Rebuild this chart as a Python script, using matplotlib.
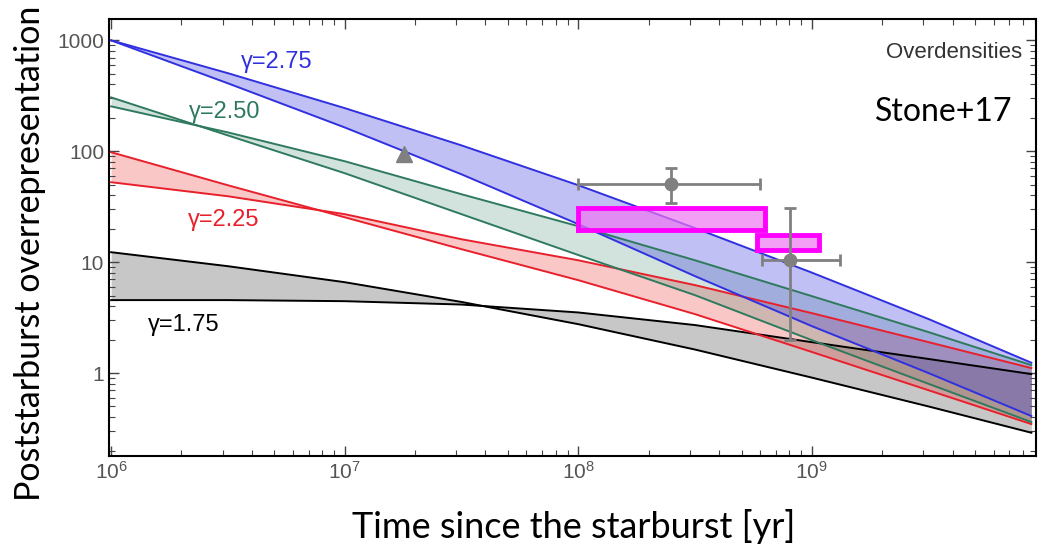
import numpy as np
import matplotlib
matplotlib.use("Agg")
import matplotlib.pyplot as plt
from matplotlib.ticker import LogLocator, FixedLocator, NullFormatter

# ------------------------------------------------------------
# data
# ------------------------------------------------------------
t = [1e6, 3.16e6, 1e7, 3.16e7, 1e8, 3.16e8, 1e9, 3.16e9, 8.7e9]

# gamma = 2.75 (blue)
blue_hi = [1000, 506, 245, 113, 49.4, 20.3, 8.05, 3.07, 1.24]
blue_lo = [1000, 410, 164, 62, 22, 7.48, 2.65, 1.0, 0.41]
# gamma = 2.50 (green)
green_a = [306, 139, 63.4, 27.1, 11.6, 5.04, 1.98, 0.80, 0.362]
green_b = [254, 148, 81.3, 41, 21.1, 10.4, 4.94, 2.34, 1.18]
# gamma = 2.25 (red)
red_a = [98, 49.4, 25.4, 13.1, 6.88, 3.40, 1.55, 0.70, 0.347]
red_b = [52.6, 39.3, 27.1, 16.1, 10.4, 6.21, 3.47, 1.90, 1.11]
# gamma = 1.75 (black)
black_a = [12.3, 9.2, 6.6, 4.38, 2.76, 1.63, 0.91, 0.50, 0.29]
black_b = [4.55, 4.55, 4.45, 4.15, 3.52, 2.71, 1.90, 1.34, 0.98]

# observations
tri_t, tri_y = [1.8e7], [95]
pt_t = [2.5e8, 8.05e8]
pt_y = [51, 10.5]
pt_xerr = [[1.5e8, 1.95e8], [3.5e8, 5.2e8]]   # minus, plus
pt_yerr = [[17, 8.5], [19, 20.5]]
box_t0 = [1e8, 5.8e8]
box_t1 = [6.3e8, 1.07e9]
box_y0 = [19.5, 12.8]
box_y1 = [31, 17.4]

bands = [
    (black_a, black_b, "black", "#909090", 0.5, "γ=1.75", (2.05e6, 2.71)),
    (red_a, red_b, "#e8202c", "#ee2020", 0.25, "γ=2.25", (3.04e6, 23.9)),
    (green_a, green_b, "#2f7a5e", "#2e8060", 0.22, "γ=2.50", (3.07e6, 224)),
    (blue_hi, blue_lo, "#3030e0", "#4040e0", 0.33, "γ=2.75", (5.1e6, 634)),
]

plt.rcParams["font.family"] = ["Liberation Sans", "DejaVu Sans"]
plt.rcParams["mathtext.fontset"] = "custom"
plt.rcParams["mathtext.rm"] = "Liberation Sans"

fig = plt.figure(figsize=(10.39, 5.5), dpi=100)
ax = fig.add_axes([0.105, 0.171, 0.892, 0.794])
ax.set_xscale("log")
ax.set_yscale("log")

for a, b, lc, fc, al, lab, pos in bands:
    ax.fill_between(t, a, b, color=fc, alpha=al, lw=0)
for a, b, lc, fc, al, lab, pos in bands:
    ax.plot(t, a, color=lc, lw=1.4)
    ax.plot(t, b, color=lc, lw=1.4)
    ax.text(pos[0], pos[1], lab, color=lc, fontsize=17, ha="center", va="center")

# magenta boxes
for x0, x1, y0, y1 in zip(box_t0, box_t1, box_y0, box_y1):
    ax.fill_between([x0, x1], [y0, y0], [y1, y1], facecolor="#ee77f2",
                    alpha=0.7, lw=0, zorder=4)
    ax.plot([x0, x1, x1, x0, x0], [y0, y0, y1, y1, y0], color="#ff00ff",
            lw=3.5, zorder=5, solid_joinstyle="miter")

ax.errorbar(pt_t, pt_y, xerr=pt_xerr, yerr=pt_yerr, fmt="o", color="#808080",
            ms=9, elinewidth=2, capsize=4, capthick=2, zorder=6)
ax.plot(tri_t, tri_y, "^", color="#808080", ms=12, zorder=6)

ax.set_xlim(0.98e6, 9.1e9)
ax.set_ylim(0.179, 1550)

ax.xaxis.set_major_locator(FixedLocator([1e6, 1e7, 1e8, 1e9]))
ax.set_xticklabels([r"$\mathregular{10^{6}}$", r"$\mathregular{10^{7}}$",
                    r"$\mathregular{10^{8}}$", r"$\mathregular{10^{9}}$"])
ax.yaxis.set_major_locator(FixedLocator([1, 10, 100, 1000]))
ax.set_yticklabels(["1", "10", "100", "1000"])
ax.xaxis.set_minor_locator(LogLocator(base=10, subs=np.arange(2, 10)))
ax.yaxis.set_minor_locator(LogLocator(base=10, subs=np.arange(2, 10)))
ax.xaxis.set_minor_formatter(NullFormatter())
ax.yaxis.set_minor_formatter(NullFormatter())
ax.tick_params(which="both", direction="in", top=True, right=True,
               colors="#444444", labelcolor="#555555", labelsize=15)
ax.tick_params(which="major", length=7, width=1)
ax.tick_params(which="minor", length=4, width=0.8)
for s in ax.spines.values():
    s.set_linewidth(1.5)

ax.text(0.985, 0.925, "Overdensities", transform=ax.transAxes, ha="right",
        va="center", fontsize=16, color="#333333")
ax.text(0.975, 0.787, "Stone+17", transform=ax.transAxes, ha="right",
        va="center", fontsize=23, family=["Lato", "DejaVu Sans"])

fig.text(0.029, 0.54, "Poststarburst overrepresentation", rotation=90,
         ha="center", va="center", fontsize=24.5, family=["Lato", "DejaVu Sans"])
fig.text(0.552, 0.042, "Time since the starburst [yr]", ha="center",
         va="center", fontsize=26, family=["Lato", "DejaVu Sans"])

fig.savefig("out.png", dpi=100)
